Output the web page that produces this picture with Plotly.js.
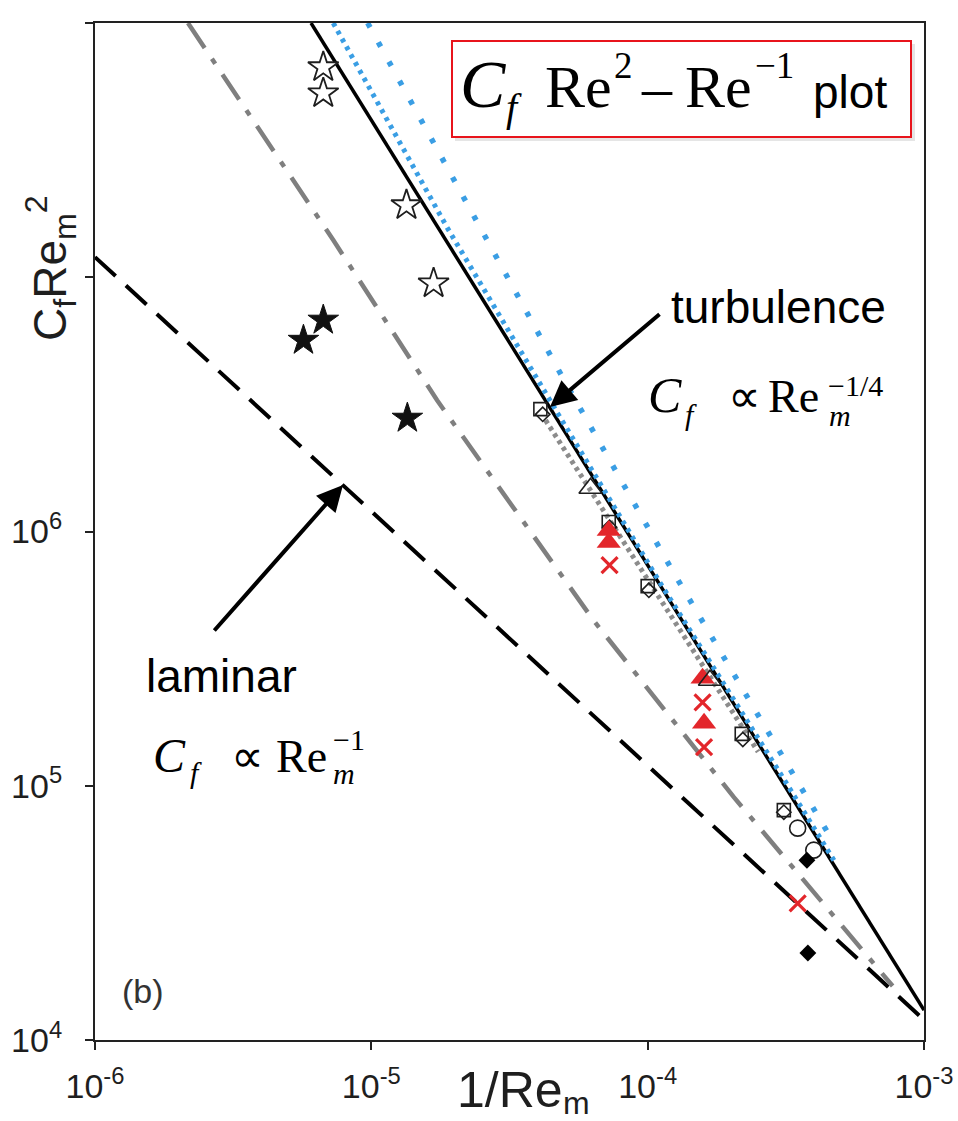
<!DOCTYPE html>
<html><head><meta charset="utf-8">
<script src="https://cdn.plot.ly/plotly-3.0.1.min.js"></script>
<style>body{margin:0;background:#fff}</style>
</head><body><div id="chart" style="width:958px;height:1121px"></div>
<script>
// ---------- data ----------
const xTickVals = [1e-6, 1e-5, 1e-4, 1e-3];
const xTickText = ["10<sup>-6</sup>", "10<sup>-5</sup>", "10<sup>-4</sup>", "10<sup>-3</sup>"];
const yTickVals = [1e4, 1e5, 1e6, 1e7, 1e8];
const yTickText = ["10<sup>4</sup>", "10<sup>5</sup>", "10<sup>6</sup>", "", "10<sup>8</sup>"];

// laminar fit  Cf ~ Re^-1
const laminarX = [1e-6, 1e-3];
const laminarY = [1.2e7, 1.2e4];
// turbulence fit  Cf ~ Re^-1/4
const turbX = [6.05e-6, 1e-3];
const turbY = [1e8, 1.31e4];
// grey dash-dot curve
const dashDotX = [2.17e-6, 7.28e-6, 1.73e-5, 6.37e-5, 2.05e-4, 7.7e-4];
const dashDotY = [1e8, 1.40e7, 3.28e6, 4.47e5, 9.02e4, 1.63e4];
// grey dotted curve
const greyDotX = [4.27e-5, 2.51e-4];
const greyDotY = [2.74e6, 1.36e5];
// blue dotted curves
const blueDenseX = [7.28e-6, 1.88e-5, 4.72e-5, 1.11e-4, 3.08e-4, 4.72e-4];
const blueDenseY = [1e8, 1.57e7, 2.92e6, 6.27e5, 1.08e5, 5.09e4];
const blueSparseX = [9.7e-6, 2.01e-5, 4.92e-5, 1.24e-4, 3.21e-4, 4.68e-4];
const blueSparseY = [1e8, 2.36e7, 4.04e6, 6.90e5, 1.22e5, 6.05e4];

// markers
const openStarX = [6.70e-6, 6.70e-6, 1.34e-5, 1.68e-5];
const openStarY = [6.70e7, 5.29e7, 1.92e7, 9.46e6];
const fullStarX = [6.70e-6, 5.68e-6, 1.35e-5];
const fullStarY = [6.78e6, 5.65e6, 2.79e6];
const squareX = [4.09e-5, 7.23e-5, 1.0e-4, 2.19e-4, 3.11e-4];
const squareY = [3.03e6, 1.09e6, 6.10e5, 1.60e5, 8.02e4];
const diamondX = [4.17e-5, 7.28e-5, 1.01e-4, 2.21e-4, 3.11e-4];
const diamondY = [2.89e6, 1.04e6, 5.87e5, 1.52e5, 7.87e4];
const openTriX = [6.21e-5, 1.68e-4];
const openTriY = [1.48e6, 2.60e5];
const redTriX = [7.23e-5, 7.23e-5, 1.58e-4, 1.60e-4];
const redTriY = [1.01e6, 9.06e5, 2.65e5, 1.76e5];
const redCrossX = [7.28e-5, 1.58e-4, 1.60e-4, 3.49e-4];
const redCrossY = [7.37e5, 2.13e5, 1.42e5, 3.45e4];
const circleX = [3.49e-4, 3.99e-4];
const circleY = [6.81e4, 5.58e4];
const fullDiamondX = [3.77e-4, 3.80e-4];
const fullDiamondY = [5.09e4, 2.20e4];

// ---------- styling ----------
const BLUE = '#3a9ee4', RED = '#e3262b', INK = '#1e1e1e';
const SERIF = 'Liberation Serif, Times New Roman, serif';
const SANS = 'Liberation Sans, Arial, sans-serif';

function line(x, y, color, width, dash) {
  return {x, y, type: 'scatter', mode: 'lines', hoverinfo: 'skip',
          line: {color, width, dash}};
}
function pts(x, y, marker) {
  return {x, y, type: 'scatter', mode: 'markers', hoverinfo: 'skip', marker, cliponaxis: false};
}

const traces = [
  line(laminarX, laminarY, '#000', 4, '28px,14px'),
  line(dashDotX, dashDotY, '#7f7f7f', 4.5, '30px,13px,6px,13px'),
  line(turbX, turbY, '#000', 3.5, 'solid'),
  line(greyDotX, greyDotY, '#8c8c8c', 5, '4px,4px'),
  line(blueDenseX, blueDenseY, BLUE, 5, '4px,5px'),
  line(blueSparseX, blueSparseY, BLUE, 5.5, '5px,17px'),
  pts(openStarX, openStarY, {symbol: 'star', size: 23, color: '#fff', line: {color: INK, width: 1.8}}),
  pts(fullStarX, fullStarY, {symbol: 'star', size: 23, color: '#111', line: {color: '#111', width: 1}}),
  pts(squareX, squareY, {symbol: 'square-open', size: 13, color: INK, line: {width: 1.6}}),
  pts(diamondX, diamondY, {symbol: 'diamond-open', size: 11, color: INK, line: {width: 1.6}}),
  pts(redTriX, redTriY, {symbol: 'triangle-up', size: 21, color: RED, line: {width: 0}}),
  pts(openTriX, openTriY, {symbol: 'triangle-up-open', size: 20, color: INK, line: {width: 1.6}}),
  pts(redCrossX, redCrossY, {symbol: 'x-thin', size: 16, color: RED, line: {color: RED, width: 3.2}}),
  pts(circleX, circleY, {symbol: 'circle', size: 16, color: '#fff', line: {color: INK, width: 1.6}}),
  pts(fullDiamondX, fullDiamondY, {symbol: 'diamond', size: 13, color: '#000', line: {width: 0}})
];

// ---------- layout helpers (pixel -> paper) ----------
const L = 95, R = 924, T = 23, B = 1040;
const PX = x => (x - L) / (R - L);
const PY = y => (B - y) / (B - T);
function txt(s, x, baseline, size, fam, color) {
  return {xref: 'paper', yref: 'paper', x: PX(x), y: PY(baseline - 0.34 * size),
          xanchor: 'left', yanchor: 'middle', text: s, showarrow: false,
          borderpad: 0, font: {size, family: fam, color: color || '#000'}};
}
function arrow(hx, hy, tx, ty) {
  return {xref: 'paper', yref: 'paper', x: PX(hx), y: PY(hy), ax: tx - hx, ay: ty - hy,
          text: '', showarrow: true, arrowhead: 2, arrowsize: 1.3, arrowwidth: 4,
          arrowcolor: '#000', standoff: 0, startstandoff: 0};
}

const annotations = [
  // title box
  txt('<i>C</i>', 459, 107, 68, SERIF),
  txt('<i>f</i>', 505, 121, 40, SERIF),
  txt('Re', 544, 107, 60, SERIF),
  txt('2', 613, 78, 37, SERIF),
  txt('–', 640, 107, 60, SERIF),
  txt('Re', 684, 107, 60, SERIF),
  txt('−1', 754, 78, 37, SERIF),
  txt('plot', 812, 108, 46, SANS),
  // turbulence label
  txt('turbulence', 670, 323, 46, SANS),
  txt('<i>C</i>', 647, 412, 50, SERIF),
  txt('<i>f</i>', 684, 425, 30, SERIF),
  txt('∝', 727, 412, 46, SERIF),
  txt('Re', 767, 412, 46, SERIF),
  txt('<i>m</i>', 828, 426, 30, SERIF),
  txt('−1/4', 827, 396, 30, SERIF),
  // laminar label
  txt('laminar', 145, 692, 46, SANS),
  txt('<i>C</i>', 152, 772, 48, SERIF),
  txt('<i>f</i>', 189, 783, 30, SERIF),
  txt('∝', 230, 772, 46, SERIF),
  txt('Re', 275, 772, 46, SERIF),
  txt('<i>m</i>', 332, 784, 30, SERIF),
  txt('−1', 332, 750, 30, SERIF),
  // panel tag
  txt('(b)', 121, 1003, 34, SANS, '#333'),
  // x axis title
  txt('1/Re', 456, 1107, 50, SANS, INK),
  txt('m', 562, 1114, 32, SANS, INK),
  // y axis title
  {xref: 'paper', yref: 'paper', x: PX(50), y: PY(268), xanchor: 'center', yanchor: 'middle',
   textangle: -90, showarrow: false, text: 'C<sub>f</sub>Re<sub>m</sub><sup>2</sup>',
   font: {size: 46, family: SANS, color: INK}},
  // arrows
  arrow(550, 407, 661, 313),
  arrow(343, 485, 213, 632)
];

const shapes = [
  {type: 'rect', xref: 'paper', yref: 'paper', x0: PX(455), x1: PX(915), y0: PY(44), y1: PY(141),
   line: {width: 0}, fillcolor: 'rgba(0,0,0,0.10)', layer: 'above'},
  {type: 'rect', xref: 'paper', yref: 'paper', x0: PX(452), x1: PX(911), y0: PY(41), y1: PY(137),
   line: {color: '#e8141c', width: 2}, fillcolor: '#fff', layer: 'above'}
];

const axisCommon = {
  type: 'log', showgrid: false, zeroline: false, showline: true, mirror: true,
  linecolor: '#222', linewidth: 2, ticks: 'outside', ticklen: 8, tickwidth: 2, tickcolor: '#222',
  tickfont: {family: SANS, size: 34, color: INK}
};

const layout = {
  width: 958, height: 1121,
  margin: {l: L, r: 958 - R, t: T, b: 1121 - B},
  paper_bgcolor: '#fff', plot_bgcolor: '#fff', showlegend: false,
  xaxis: Object.assign({}, axisCommon, {range: [-6, -3], tickvals: xTickVals, ticktext: xTickText, ticklabelstandoff: 7}),
  yaxis: Object.assign({}, axisCommon, {range: [4, 8], tickvals: yTickVals, ticktext: yTickText, ticklabelstandoff: 16}),
  annotations, shapes
};

Plotly.newPlot('chart', traces, layout, {staticPlot: true});
</script></body></html>
